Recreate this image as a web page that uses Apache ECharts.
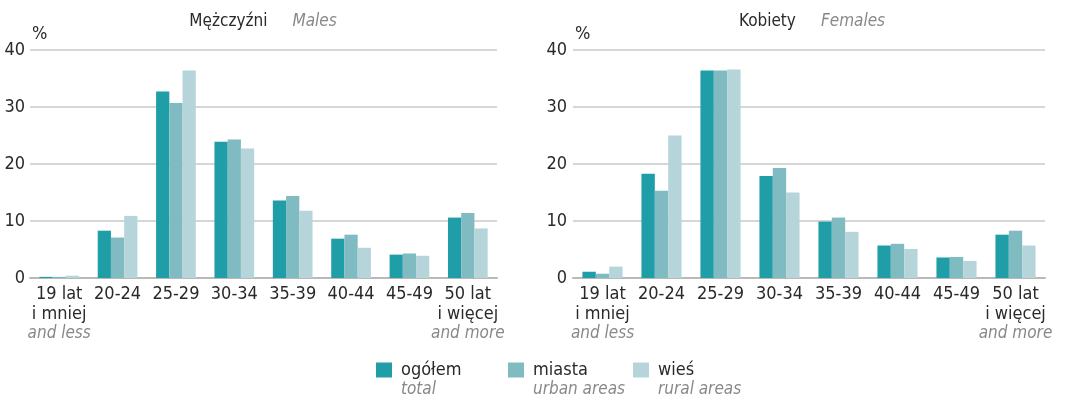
<!DOCTYPE html>
<html>
<head>
<meta charset="utf-8">
<script src="https://cdn.jsdelivr.net/npm/echarts@6/dist/echarts.min.js"></script>
<style>html,body{margin:0;padding:0;background:#fff}#c{width:1069px;height:403px}</style>
</head>
<body>
<div id="c"></div>
<script>
const categories = ['19 lat\ni mniej', '20-24', '25-29', '30-34', '35-39', '40-44', '45-49', '50 lat\ni więcej'];
const categoriesEn = ['and less', '', '', '', '', '', '', 'and more'];
const seriesNames = ['ogółem', 'miasta', 'wieś'];
const seriesNamesEn = ['total', 'urban areas', 'rural areas'];
const yTicks = [0, 10, 20, 30, 40];

const malesTotal = [0.2, 8.3, 32.7, 23.9, 13.6, 6.9, 4.1, 10.6];
const malesUrban = [0.2, 7.1, 30.7, 24.3, 14.4, 7.6, 4.3, 11.4];
const malesRural = [0.4, 10.9, 36.4, 22.7, 11.8, 5.3, 3.9, 8.7];

const femalesTotal = [1.1, 18.3, 36.4, 17.9, 9.9, 5.7, 3.6, 7.6];
const femalesUrban = [0.75, 15.3, 36.4, 19.3, 10.6, 6.0, 3.7, 8.3];
const femalesRural = [2.0, 25.0, 36.6, 15.0, 8.1, 5.1, 3.0, 5.7];

const colors = ['#1f9ea7', '#80bbc2', '#b5d5da'];
const FONT = "'Liberation Sans Narrow', 'DejaVu Sans Condensed', sans-serif";

const chart = echarts.init(document.getElementById('c'), null, {renderer: 'canvas'});

function xLabel(value, idx) {
  const lines = value.split('\n').map(s => '{a|' + s + '}');
  if (categoriesEn[idx]) lines.push('{b|' + categoriesEn[idx] + '}');
  return lines.join('\n');
}

function xAxisCfg(gridIndex) {
  return {
    type: 'category', gridIndex, data: categories,
    axisTick: {show: false},
    axisLine: {show: true, lineStyle: {color: '#b9b9b9', width: 2}},
    axisLabel: {
      interval: 0, margin: 6, formatter: xLabel,
      rich: {
        a: {fontFamily: FONT, fontSize: 18, lineHeight: 20, color: '#2a2a2a'},
        b: {fontFamily: FONT, fontSize: 17, lineHeight: 20, color: '#888', fontStyle: 'italic'}
      }
    }
  };
}

function yAxisCfg(gridIndex, margin) {
  return {
    type: 'value', gridIndex, min: yTicks[0], max: yTicks[yTicks.length - 1], interval: 10,
    name: '%', nameLocation: 'end', nameGap: 7,
    nameTextStyle: {fontFamily: FONT, fontSize: 18, color: '#2a2a2a', align: 'left', padding: [0, 0, 0, 2]},
    axisLine: {show: false}, axisTick: {show: false},
    axisLabel: {margin, fontFamily: FONT, fontSize: 18, color: '#2a2a2a'},
    splitLine: {show: true, lineStyle: {color: '#cacaca', width: 1.5}}
  };
}

function barSeries(name, data, idx, axisIndex) {
  return {
    type: 'bar', name, data, xAxisIndex: axisIndex, yAxisIndex: axisIndex,
    barGap: '0%', barCategoryGap: '32%',
    itemStyle: {color: colors[idx]}, emphasis: {disabled: true}
  };
}

function legendCfg(i, left) {
  return {
    data: [seriesNames[i]], left, top: 345, padding: 0,
    itemWidth: 16, itemHeight: 15, icon: 'rect', selectedMode: false,
    formatter: n => '{s| }\n{a|' + n + '}\n{b|' + seriesNamesEn[i] + '}',
    textStyle: {
      rich: {
        s: {fontSize: 10, lineHeight: 20},
        a: {fontFamily: FONT, fontSize: 18, lineHeight: 20, color: '#2a2a2a', padding: [0, 0, 0, 4]},
        b: {fontFamily: FONT, fontSize: 17, lineHeight: 20, color: '#888', fontStyle: 'italic', padding: [0, 0, 0, 4]}
      }
    }
  };
}

const titleRich = {
  a: {fontFamily: FONT, fontSize: 17, color: '#2a2a2a', fontWeight: 'normal'},
  b: {fontFamily: FONT, fontSize: 17, color: '#888', fontStyle: 'italic', fontWeight: 'normal'}
};

chart.setOption({
  animation: false,
  title: [
    {text: '{a|Mężczyźni}     {b|Males}', left: 263, textAlign: 'center', top: 13, padding: 0, textStyle: {fontWeight: 'normal', rich: titleRich}},
    {text: '{a|Kobiety}     {b|Females}', left: 812, textAlign: 'center', top: 13, padding: 0, textStyle: {fontWeight: 'normal', rich: titleRich}}
  ],
  legend: [legendCfg(0, 376), legendCfg(1, 508), legendCfg(2, 633)],
  grid: [
    {left: 30, right: 572, top: 50, bottom: 125, containLabel: false},
    {left: 573, right: 24, top: 50, bottom: 125, containLabel: false}
  ],
  xAxis: [xAxisCfg(0), xAxisCfg(1)],
  yAxis: [yAxisCfg(0, 5), yAxisCfg(1, 6)],
  series: [
    barSeries(seriesNames[0], malesTotal, 0, 0),
    barSeries(seriesNames[1], malesUrban, 1, 0),
    barSeries(seriesNames[2], malesRural, 2, 0),
    barSeries(seriesNames[0], femalesTotal, 0, 1),
    barSeries(seriesNames[1], femalesUrban, 1, 1),
    barSeries(seriesNames[2], femalesRural, 2, 1)
  ]
});
</script>
</body>
</html>
